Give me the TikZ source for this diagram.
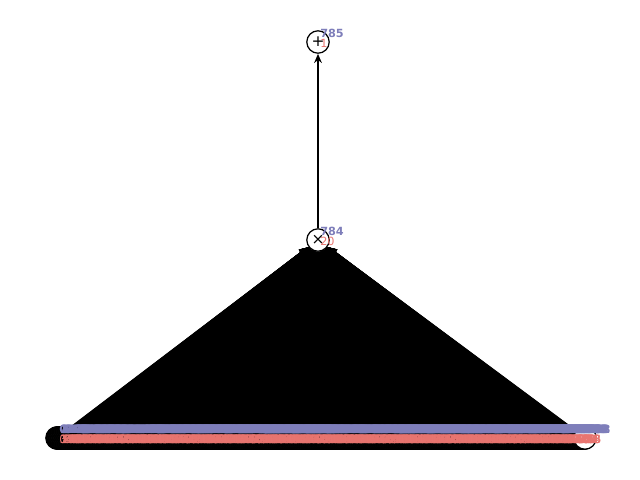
\documentclass[tikz,border=0pt]{standalone}
\usepackage{fontspec}
\setmainfont{DejaVu Sans}
\usetikzlibrary{arrows.meta,positioning,calc}
\definecolor{idpurple}{RGB}{126,126,186}
\definecolor{valred}{RGB}{232,117,112}

\begin{document}
\begin{tikzpicture}[
    x=0.025cm, y=-0.025cm,
    every node/.style={font=\fontsize{11}{11}\selectfont},
    op/.style={draw, circle, fill=white, line width=0.9pt, minimum size=0.56cm, inner sep=0pt},
    idlab/.style={font=\fontsize{8}{8}\selectfont\bfseries, text=idpurple, anchor=west, inner sep=0pt},
    vallab/.style={font=\fontsize{8}{8}\selectfont, text=valred, anchor=west, inner sep=0pt},
    edge/.style={-{Stealth[length=6.5pt,width=5.5pt]}, line width=1.5pt},
]
\useasboundingbox (0,0) rectangle (640,480);

% operations
\node[op] (add) at (318,42) {+};
\node[op] (mul) at (318,240) {×};

% input nodes
\foreach \i in {0,...,783}
    \node[op] (in\i) at ({57+\i*0.67433},438) {};

% connectors
\foreach \i in {0,...,783}
    \draw[edge] (in\i) -- (mul);
\draw[edge] (mul) -- (add);

% ids and values
\foreach \i in {0,...,783}{
    \pgfmathtruncatemacro{\v}{mod(mod(\i,97)*37,97)}
    \node[idlab] (id\i) at ($(in\i)+(2,-8.5)$) {\i};
    \node[vallab] (val\i) at ($(in\i)+(2,1.5)$) {\v};
}
\node[idlab] (idmul) at ($(mul)+(2,-8.5)$) {784};
\node[vallab] (valmul) at ($(mul)+(2,1.5)$) {20};
\node[idlab] (idadd) at ($(add)+(2,-8.5)$) {785};
\node[vallab] (valadd) at ($(add)+(2,1.5)$) {1};
\end{tikzpicture}
\end{document}
